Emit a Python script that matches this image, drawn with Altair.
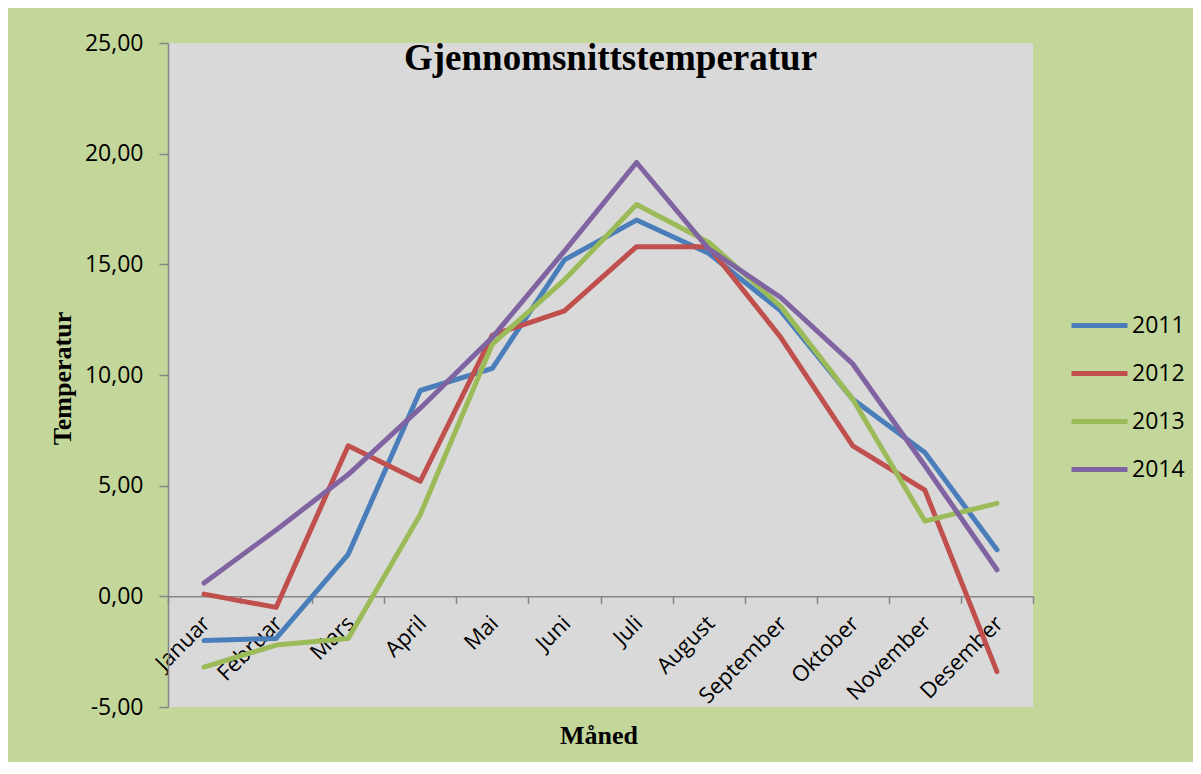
import altair as alt
import pandas as pd

months = ["Januar", "Februar", "Mars", "April", "Mai", "Juni", "Juli",
          "August", "September", "Oktober", "November", "Desember"]
years = ["2011", "2012", "2013", "2014"]
t2011 = [-2.0, -1.9, 1.9, 9.3, 10.3, 15.2, 17.0, 15.5, 12.9, 8.9, 6.5, 2.1]
t2012 = [0.1, -0.5, 6.8, 5.2, 11.8, 12.9, 15.8, 15.8, 11.7, 6.8, 4.8, -3.4]
t2013 = [-3.2, -2.2, -1.9, 3.7, 11.4, 14.3, 17.7, 16.0, 13.1, 8.9, 3.4, 4.2]
t2014 = [0.6, 3.0, 5.5, 8.5, 11.7, 15.6, 19.6, 15.7, 13.5, 10.5, 5.9, 1.2]
series = [t2011, t2012, t2013, t2014]
colors = ["#4A7EBB", "#C0504D", "#9BBB59", "#8064A2"]

rows = []
for y, vals in zip(years, series):
    for i, (m, v) in enumerate(zip(months, vals)):
        rows.append({"Måned": m, "pos": i + 0.5, "År": y, "Temperatur": v})
df = pd.DataFrame(rows)

W, H = 865, 664
ymin, ymax = -5, 25
zero_off = -H * (0 - ymin) / (ymax - ymin)

month_arr = "[" + ",".join("'" + m + "'" for m in months) + "]"

chart = alt.Chart(df).mark_line(
    strokeWidth=5, strokeCap="round", strokeJoin="round"
).encode(
    x=alt.X("pos:Q",
            scale=alt.Scale(domain=[0, len(months)], nice=False, zero=False),
            axis=alt.Axis(
                title="Måned", values=list(range(len(months) + 1)),
                offset=zero_off, grid=False,
                domainColor="#868686", domainWidth=1.5,
                tickColor="#868686", tickSize=7, tickWidth=1.5,
                labelExpr=f"datum.value < {len(months)} ? {month_arr}[datum.value] : ''",
                labelAngle=-45, labelAlign="right", labelBaseline="middle",
                labelOffset=38, labelPadding=16, labelOverlap=False,
                labelBound=False, labelFlush=False,
                labelFont="Open Sans", labelFontSize=22, labelColor="black",
                titleFont="Liberation Serif", titleFontSize=26, titleFontWeight="bold",
                titleColor="black", titleX=W / 2 - 2, titleY=147 + 0,
                titleBaseline="alphabetic", titleAlign="center",
            )),
    y=alt.Y("Temperatur:Q",
            scale=alt.Scale(domain=[ymin, ymax], nice=False),
            axis=alt.Axis(
                title="Temperatur", values=list(range(ymin, ymax + 1, 5)),
                grid=False, domainColor="#868686", domainWidth=1.5,
                tickColor="#868686", tickSize=9, tickWidth=1.5,
                labelExpr="replace(replace(format(datum.value, '.2f'), '.', ','), '\u2212', '-')",
                labelPadding=16, labelFlush=False, labelOverlap=False,
                labelFont="Open Sans", labelFontSize=23, labelColor="black",
                titleFont="Liberation Serif", titleFontSize=26, titleFontWeight="bold",
                titleColor="black", titleX=-106, titleY=H / 2 + 3, titleAngle=270,
                titleAlign="center", titleBaseline="middle",
            )),
    color=alt.Color("År:N", scale=alt.Scale(domain=years, range=colors),
                    legend=alt.Legend(
                        title=None, orient="none", legendX=901, legendY=252,
                        symbolType="stroke", symbolSize=3136, symbolStrokeWidth=5,
                        labelFont="Open Sans", labelFontSize=23, labelColor="black",
                        labelOffset=2, rowPadding=5)),
).properties(
    width=W, height=H,
    title=alt.TitleParams("Gjennomsnittstemperatur", font="Liberation Serif",
                          fontSize=37, fontWeight="bold", color="black",
                          anchor="middle", frame="group", baseline="alphabetic",
                          offset=0, dy=75, dx=10),
    autosize=alt.AutoSizeParams(type="none"),
    padding={"left": 160, "top": 35, "right": 160, "bottom": 55},
).configure(
    background="#C4D79B"
).configure_view(
    fill="#D9D9D9", stroke=None
)

chart.save("out.html", embed_options={"renderer": "svg", "actions": False})
